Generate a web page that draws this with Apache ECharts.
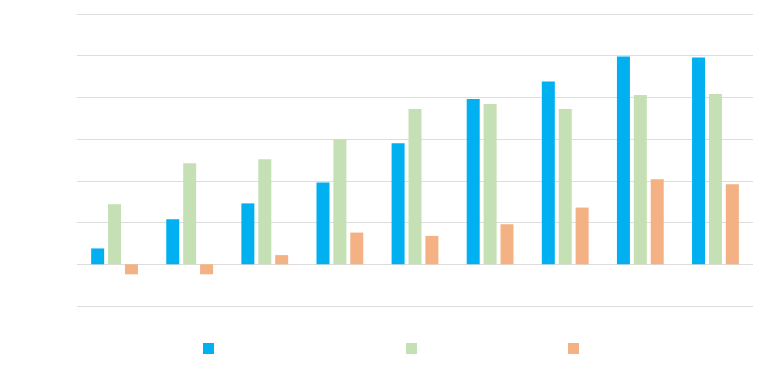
<!DOCTYPE html>
<html>
<head>
<meta charset="utf-8">
<script src="https://cdn.jsdelivr.net/npm/echarts@6/dist/echarts.min.js"></script>
<style>html,body{margin:0;padding:0;background:#fff}#c{width:768px;height:378px}</style>
</head>
<body>
<div id="c"></div>
<script>
const categories = ['1', '2', '3', '4', '5', '6', '7', '8', '9'];
const seriesNames = ['Series 1', 'Series 2', 'Series 3'];
const blueValues = [1.9, 5.4, 7.3, 9.8, 14.5, 19.8, 21.9, 24.9, 24.8];
const greenValues = [7.2, 12.1, 12.6, 15.0, 18.6, 19.2, 18.6, 20.3, 20.4];
const orangeValues = [-1.2, -1.2, 1.1, 3.8, 3.4, 4.8, 6.8, 10.2, 9.6];
const colors = ['#00B0F0', '#C5E0B4', '#F4B183'];

const chart = echarts.init(document.getElementById('c'), null, {renderer: 'canvas'});
const legendBase = {
  top: 338, itemWidth: 11, itemHeight: 11, icon: 'rect',
  textStyle: {color: '#ffffff', fontSize: 11, fontFamily: 'Liberation Sans'}
};
chart.setOption({
  animation: false,
  grid: {left: 77, right: 15, top: 14, bottom: 72, containLabel: false},
  legend: [
    Object.assign({left: 198, data: [seriesNames[0]]}, legendBase),
    Object.assign({left: 401, data: [seriesNames[1]]}, legendBase),
    Object.assign({left: 563, data: [seriesNames[2]]}, legendBase)
  ],
  xAxis: {
    type: 'category', data: categories,
    axisLine: {show: false}, axisTick: {show: false},
    axisLabel: {color: '#ffffff', fontSize: 11}
  },
  yAxis: {
    type: 'value', min: -5, max: 30, interval: 5,
    axisLine: {show: false}, axisTick: {show: false},
    axisLabel: {color: '#ffffff', fontSize: 11},
    splitLine: {lineStyle: {color: '#dddddd', width: 1}}
  },
  series: [
    {name: seriesNames[0], type: 'bar', data: blueValues, barWidth: 13, barGap: '30%', itemStyle: {color: colors[0]}},
    {name: seriesNames[1], type: 'bar', data: greenValues, barWidth: 13, barGap: '30%', itemStyle: {color: colors[1]}},
    {name: seriesNames[2], type: 'bar', data: orangeValues, barWidth: 13, barGap: '30%', itemStyle: {color: colors[2]}}
  ]
});
</script>
</body>
</html>
